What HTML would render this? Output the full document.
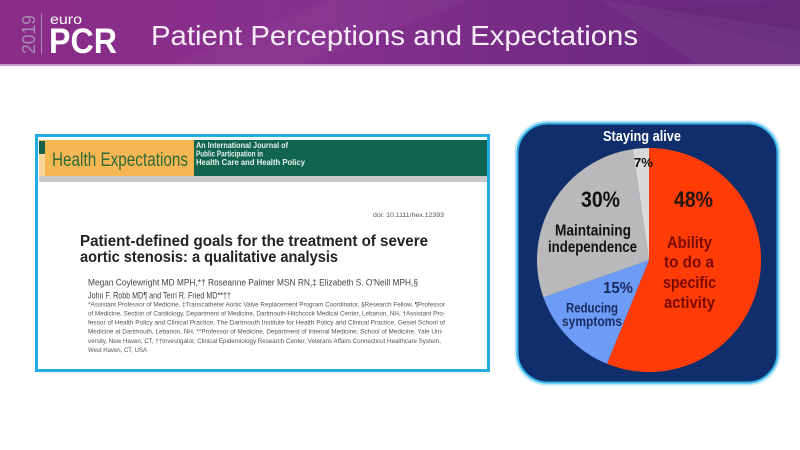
<!DOCTYPE html>
<html>
<head>
<meta charset="utf-8">
<style>
  html,body{margin:0;padding:0;background:#fff;}
  body{width:800px;height:450px;overflow:hidden;}
  svg{display:block;}
  text{font-family:"Liberation Sans", Arial, sans-serif;}
</style>
</head>
<body>
<svg width="800" height="450" viewBox="0 0 800 450" xmlns="http://www.w3.org/2000/svg">
  <defs>
    <linearGradient id="hdr" x1="0" y1="0" x2="1" y2="0">
      <stop offset="0" stop-color="#8a2c88"/>
      <stop offset="0.4" stop-color="#86308e"/>
      <stop offset="0.75" stop-color="#702a82"/>
      <stop offset="1" stop-color="#6a2b80"/>
    </linearGradient>
  </defs>

  <!-- Header -->
  <rect x="0" y="0" width="800" height="65" fill="url(#hdr)"/>
  <polygon points="170,65 330,0 470,0 300,65" fill="#ffffff" opacity="0.03"/>
  <polygon points="600,0 800,30 800,65 700,65" fill="#ffffff" opacity="0.04"/>
  <polygon points="640,10 800,50 800,0" fill="#000000" opacity="0.03"/>
  <rect x="0" y="64" width="800" height="2" fill="#c69acb"/>

  <!-- 2019 vertical -->
  <text transform="translate(35,54) rotate(-90)" font-size="18" fill="#a88db2" textLength="39" lengthAdjust="spacingAndGlyphs">2019</text>
  <rect x="41" y="14" width="1" height="40" fill="#a88db2"/>
  <text x="50" y="24" font-size="14" fill="#ffffff" textLength="32" lengthAdjust="spacingAndGlyphs">euro</text>
  <text x="49" y="53" font-size="35" font-weight="bold" fill="#ffffff" textLength="68" lengthAdjust="spacingAndGlyphs">PCR</text>

  <text x="151" y="45" font-size="28" fill="#f6ecf7" textLength="487" lengthAdjust="spacingAndGlyphs">Patient Perceptions and Expectations</text>

  <!-- Article box -->
  <rect x="36.5" y="135.5" width="452" height="235" fill="#ffffff" stroke="#22ace4" stroke-width="3"/>
  <!-- journal header -->
  <rect x="39" y="140" width="155" height="36" fill="#f6b652"/>
  <rect x="39" y="141" width="6" height="13" fill="#17604a"/>
  <rect x="39" y="154" width="6" height="22" fill="#f9d49a"/>
  <rect x="194" y="140" width="293" height="36" fill="#11654f"/>
  <rect x="39" y="176" width="448" height="6" fill="#c9c9c9"/>
  <text x="52" y="166" font-size="19" fill="#2e6a3a" textLength="136" lengthAdjust="spacingAndGlyphs">Health Expectations</text>
  <text x="196" y="148" font-size="8" font-weight="bold" fill="#e8f3ea" textLength="92" lengthAdjust="spacingAndGlyphs">An International Journal of</text>
  <text x="196" y="156.5" font-size="8" font-weight="bold" fill="#e8f3ea" textLength="67" lengthAdjust="spacingAndGlyphs">Public Participation in</text>
  <text x="196" y="165" font-size="8" font-weight="bold" fill="#e8f3ea" textLength="109" lengthAdjust="spacingAndGlyphs">Health Care and Health Policy</text>

  <text x="373" y="217" font-size="6.5" fill="#555" textLength="71" lengthAdjust="spacingAndGlyphs">doi: 10.1111/hex.12393</text>

  <text x="80" y="246" font-size="16" font-weight="bold" fill="#222" textLength="348" lengthAdjust="spacingAndGlyphs">Patient-defined goals for the treatment of severe</text>
  <text x="80" y="262" font-size="16" font-weight="bold" fill="#222" textLength="258" lengthAdjust="spacingAndGlyphs">aortic stenosis: a qualitative analysis</text>

  <text x="88" y="285.5" font-size="9.5" fill="#444" textLength="330" lengthAdjust="spacingAndGlyphs">Megan Coylewright MD MPH,*† Roseanne Palmer MSN RN,‡ Elizabeth S. O'Neill MPH,§</text>
  <text x="88" y="298.5" font-size="9.5" fill="#444" textLength="143" lengthAdjust="spacingAndGlyphs">John F. Robb MD¶ and Terri R. Fried MD**††</text>

  <g font-size="6.2" fill="#555">
    <text x="88" y="306.5" textLength="357" lengthAdjust="spacingAndGlyphs">*Assistant Professor of Medicine, ‡Transcatheter Aortic Valve Replacement Program Coordinator, §Research Fellow, ¶Professor</text>
    <text x="88" y="315.5" textLength="357" lengthAdjust="spacingAndGlyphs">of Medicine, Section of Cardiology, Department of Medicine, Dartmouth-Hitchcock Medical Center, Lebanon, NH, †Assistant Pro-</text>
    <text x="88" y="324.5" textLength="357" lengthAdjust="spacingAndGlyphs">fessor of Health Policy and Clinical Practice, The Dartmouth Institute for Health Policy and Clinical Practice, Geisel School of</text>
    <text x="88" y="333.5" textLength="355" lengthAdjust="spacingAndGlyphs">Medicine at Dartmouth, Lebanon, NH, **Professor of Medicine, Department of Internal Medicine, School of Medicine, Yale Uni-</text>
    <text x="88" y="342.8" textLength="353" lengthAdjust="spacingAndGlyphs">versity, New Haven, CT, ††Investigator, Clinical Epidemiology Research Center, Veterans Affairs Connecticut Healthcare System,</text>
    <text x="88" y="352.2" textLength="59" lengthAdjust="spacingAndGlyphs">West Haven, CT, USA</text>
  </g>

  <!-- Pie box -->
  <rect x="516" y="122" width="263" height="262" rx="31" ry="31" fill="none" stroke="#bfe6f6" stroke-width="3"/>
  <rect x="517.5" y="123.5" width="260" height="259" rx="30" ry="30" fill="#102d6c" stroke="#34b4e8" stroke-width="2"/>

  <!-- Pie slices -->
  <path d="M649,260 L649,148 A112,112 0 1,1 607.0,363.8 Z" fill="#ff3c05"/>
  <path d="M649,260 L607.0,363.8 A112,112 0 0,1 543.4,297.4 Z" fill="#6c9cf6"/>
  <path d="M649,260 L543.4,297.4 A112,112 0 0,1 632.8,149.2 Z" fill="#b9b9bb"/>
  <path d="M649,260 L632.8,149.2 A112,112 0 0,1 649,148 Z" fill="#d9d9d9"/>

  <!-- Pie labels -->
  <text x="603" y="141" font-size="14.5" font-weight="bold" fill="#ffffff" textLength="78" lengthAdjust="spacingAndGlyphs">Staying alive</text>
  <text x="634" y="167" font-size="13" font-weight="bold" fill="#111" textLength="19" lengthAdjust="spacingAndGlyphs">7%</text>
  <text x="674" y="207" font-size="22" font-weight="bold" fill="#231510" textLength="39" lengthAdjust="spacingAndGlyphs">48%</text>
  <text x="581" y="207" font-size="22" font-weight="bold" fill="#111" textLength="39" lengthAdjust="spacingAndGlyphs">30%</text>
  <text x="555" y="235.5" font-size="15.5" font-weight="bold" fill="#111" textLength="76" lengthAdjust="spacingAndGlyphs">Maintaining</text>
  <text x="548" y="252" font-size="15.5" font-weight="bold" fill="#111" textLength="89" lengthAdjust="spacingAndGlyphs">independence</text>

  <g font-size="17" font-weight="bold" fill="#7a0a00">
    <text x="667" y="248" textLength="45" lengthAdjust="spacingAndGlyphs">Ability</text>
    <text x="664" y="267.5" textLength="50" lengthAdjust="spacingAndGlyphs">to do a</text>
    <text x="663" y="288" textLength="53" lengthAdjust="spacingAndGlyphs">specific</text>
    <text x="664" y="308" textLength="51" lengthAdjust="spacingAndGlyphs">activity</text>
  </g>

  <text x="603" y="293" font-size="16" font-weight="bold" fill="#1b2a5e" textLength="30" lengthAdjust="spacingAndGlyphs">15%</text>
  <text x="566" y="312.5" font-size="13.5" font-weight="bold" fill="#1b2a5e" textLength="52" lengthAdjust="spacingAndGlyphs">Reducing</text>
  <text x="562" y="326" font-size="13.5" font-weight="bold" fill="#1b2a5e" textLength="60" lengthAdjust="spacingAndGlyphs">symptoms</text>
</svg>
</body>
</html>
